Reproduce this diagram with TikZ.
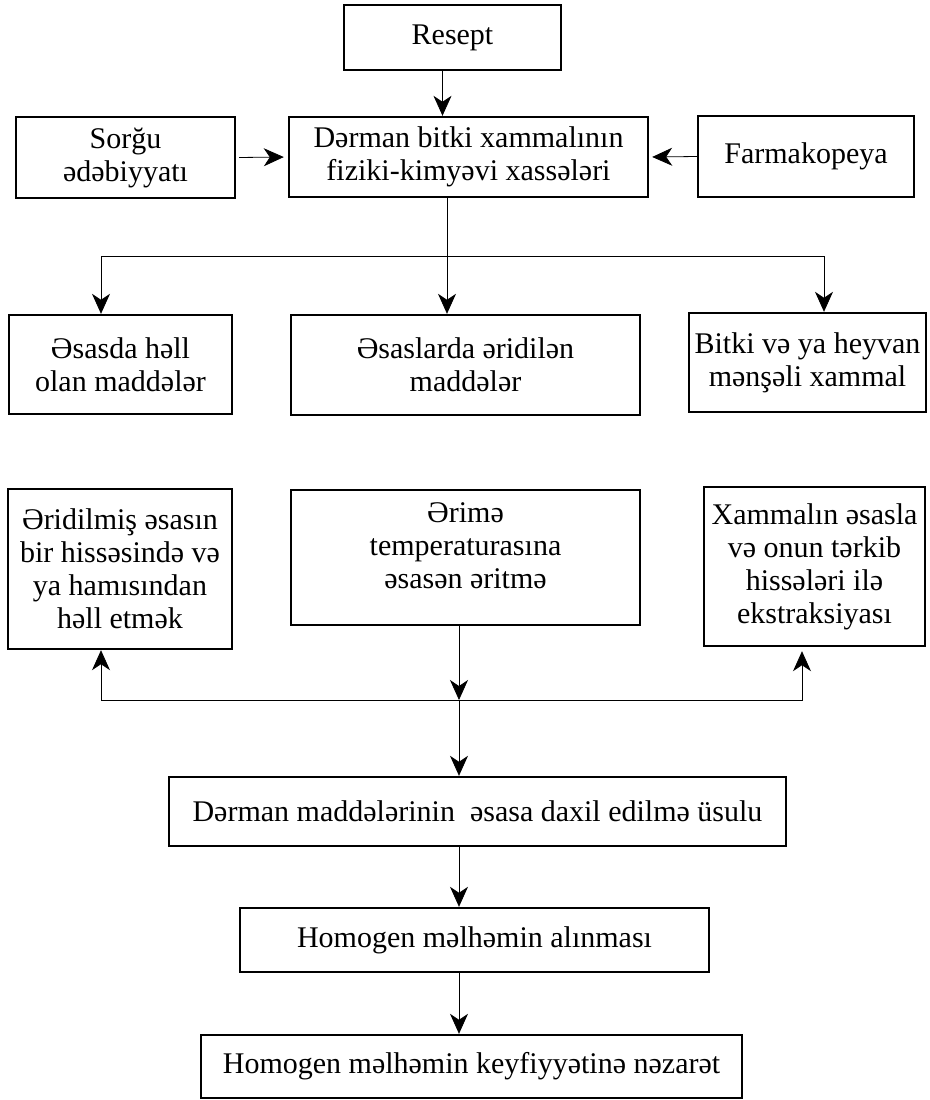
\documentclass[tikz,border=0pt]{standalone}
\usepackage{fontspec}
\setmainfont{Liberation Serif}
\usetikzlibrary{positioning,arrows.meta}
\tikzset{
	->, % every connector is an arrow
	>={Stealth[length=10pt,width=9pt,inset=3pt]}, % notched arrow heads
	line width=0.8pt, % connector lines
	box/.style={draw, -, line width=1.2pt, align=center, inner sep=0pt, font=\fontsize{15}{16.5}\selectfont}, % the framed steps
}

\begin{document}
\begin{tikzpicture}[x=0.5pt,y=-0.5pt]
	\useasboundingbox (0,0) rectangle (930,1100);
	% sources
	\node[box, minimum width=108.5pt, minimum height=32.5pt] (resept) at (452.5,37.5) {Resept};
	\node[box, minimum width=179.5pt, minimum height=40pt] (main) at (468.5,157) {Dərman bitki xammalının\\fiziki-kimyəvi xassələri};
	\node[box, minimum width=109.5pt, minimum height=40.5pt] (sorgu) at (125.5,157.5) {Sorğu\\ədəbiyyatı};
	\node[box, minimum width=108pt, minimum height=40.5pt] (farm) at (806,156.5) {Farmakopeya};
	% kinds of substances
	\node[box, minimum width=111.5pt, minimum height=49.5pt] (hell) at (120.5,364.5) {Əsasda həll\\olan maddələr};
	\node[box, minimum width=174.5pt, minimum height=50pt] (eridilen) at (465.5,365) {Əsaslarda əridilən\\maddələr};
	\node[box, minimum width=118.5pt, minimum height=49.5pt] (bitki) at (807.5,362.5) {Bitki və ya heyvan\\mənşəli xammal};
	% ways of adding
	\node[box, minimum width=112pt, minimum height=80pt] (eridilmis) at (120,569) {Əridilmiş əsasın\\bir hissəsində və\\ya hamısından\\həll etmək};
	\node[box, minimum width=174.5pt, minimum height=67.5pt] (erime) at (465.5,557.5) {Ərimə\\temperaturasına\\əsasən əritmə\\[-5pt]\mbox{}};
	\node[box, minimum width=110.5pt, minimum height=79.5pt] (xammal) at (814.5,566.5) {Xammalın əsasla\\və onun tərkib\\hissələri ilə\\ekstraksiyası};
	% result
	\node[box, minimum width=308.5pt, minimum height=34.5pt] (daxil) at (477.5,811.5) {Dərman maddələrinin\ \ əsasa daxil edilmə üsulu};
	\node[box, minimum width=234.5pt, minimum height=32pt] (alinma) at (474.5,940) {Homogen məlhəmin alınması};
	\node[box, minimum width=270.5pt, minimum height=31.5pt] (nezaret) at (471.5,1066.5) {Homogen məlhəmin keyfiyyətinə nəzarət};

	\coordinate (split) at (447,256);
	\coordinate (join) at (459,700);

	\draw ([xshift=-5pt]resept.south) -- ([xshift=-5pt]resept.south |- main.north);
	\draw[shorten <=1.5pt, shorten >=2pt] (sorgu.east) -- (main.west);
	\draw[shorten >=1.5pt] (farm.west) -- (main.east);
	\draw (main.south -| split) -- (eridilen.north -| split);
	\draw (split) -| ([xshift=-9.75pt]hell.north);
	\draw (split) -| ([xshift=8.25pt]bitki.north);

	\draw ([xshift=-3.25pt]erime.south) -- (join);
	\draw (join) -| ([xshift=-9.5pt]eridilmis.south);
	\draw[shorten >=2pt] (join) -| ([xshift=-6.25pt]xammal.south);
	\draw (join) -- (join |- daxil.north);
	\draw (join |- daxil.south) -- (join |- alinma.north);
	\draw (join |- alinma.south) -- (join |- nezaret.north);
\end{tikzpicture}
\end{document}
